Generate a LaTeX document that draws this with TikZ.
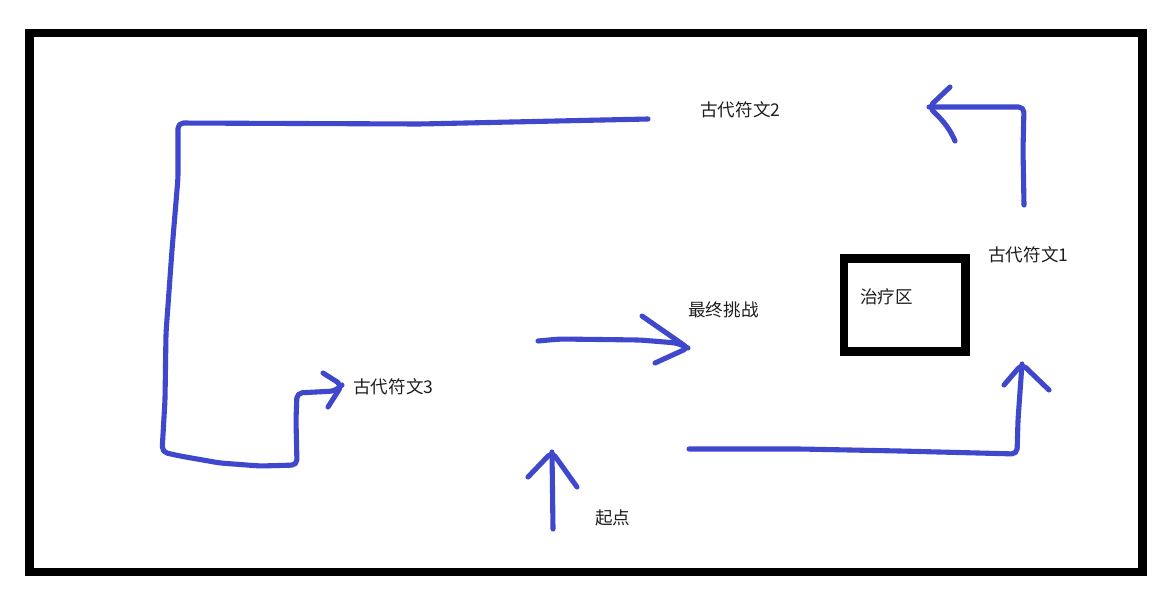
\documentclass[tikz,border=0pt]{standalone}
\usepackage{fontspec}
\setmainfont{Noto Sans CJK SC}
\definecolor{pen}{RGB}{63,72,204}
\definecolor{txt}{RGB}{30,30,30}
\begin{document}
\begin{tikzpicture}[x=0.02cm,y=-0.02cm,
  stroke/.style={draw=pen,line width=2.9pt,line cap=round,line join=round,rounded corners=3pt},
  frame/.style={draw=black,line width=5.1pt,line join=miter},
  lbl/.style={anchor=west,inner sep=0pt,text=txt,font=\fontsize{10}{12}\selectfont}]
\useasboundingbox (0,0) rectangle (1166,589);
\fill[white] (0,0) rectangle (1166,589);
% outer frame
\draw[frame] (29.5,33) rectangle (1142.5,572);
% healing area box
\draw[frame] (844,258.5) rectangle (965.5,351.5);
% labels
\node[lbl] (heal) at (860,297) {治疗区};
\node[lbl] (rune2) at (700,110) {古代符文2};
\node[lbl] (rune1) at (988,255) {古代符文1};
\node[lbl] (final) at (688,310) {最终挑战};
\node[lbl] (start) at (595,518) {起点};
\node[lbl] (rune3) at (353,387) {古代符文3};
% path 1: long path to rune 3
\coordinate (p1a) at (648,119);
\coordinate (p1b) at (178,123);
\coordinate (p1c) at (162,452);
\coordinate (p1d) at (297,465);
\coordinate (p1e) at (297,393);
\coordinate (p1t) at (342,385);
\draw[stroke] (p1a) -- (420,124) -- (p1b) -- (178,178) -- (172,250) -- (166,333) -- (165,400) -- (p1c)
  -- (180,456) -- (220,463) -- (260,466) -- (p1d) -- (296,420) -- (p1e) -- (335,391) -- (p1t);
\coordinate (p1u) at (323,373);
\coordinate (p1l) at (328,407);
\draw[stroke] (p1u) -- (p1t) -- (p1l);
% path 2: arrow to final challenge
\coordinate (p2a) at (538,341);
\coordinate (p2t) at (688,348);
\coordinate (p2u) at (642,316);
\coordinate (p2l) at (655,363);
\draw[stroke] (p2a) -- (560,339) -- (640,340) -- (677,343) -- (p2t);
\draw[stroke] (p2u) -- (p2t) -- (p2l);
% path 3: start arrow
\coordinate (p3a) at (553,529);
\coordinate (p3t) at (552,452);
\coordinate (p3u) at (528,477);
\coordinate (p3l) at (577,487);
\draw[stroke] (p3a) -- (p3t);
\draw[stroke] (p3u) -- (p3t) -- (p3l);
% path 4: bottom path up to rune 1
\coordinate (p4a) at (689,449);
\coordinate (p4b) at (1017,454);
\coordinate (p4t) at (1022,364);
\coordinate (p4u) at (1004,385);
\coordinate (p4l) at (1049,390);
\draw[stroke] (p4a) -- (800,449) -- (900,451) -- (p4b) -- (1018,420) -- (p4t);
\draw[stroke] (p4u) -- (p4t) -- (p4l);
% path 5: rune 1 up to top-left
\coordinate (p5a) at (1024,205);
\coordinate (p5b) at (1024,107);
\coordinate (p5t) at (929,107);
\coordinate (p5u) at (950,87);
\coordinate (p5l) at (955,141);
\draw[stroke] (p5a) -- (1023,150) -- (p5b) -- (p5t);
\draw[stroke] (p5u) -- (p5t) .. controls (940,118) and (948,125) .. (p5l);
\end{tikzpicture}
\end{document}
